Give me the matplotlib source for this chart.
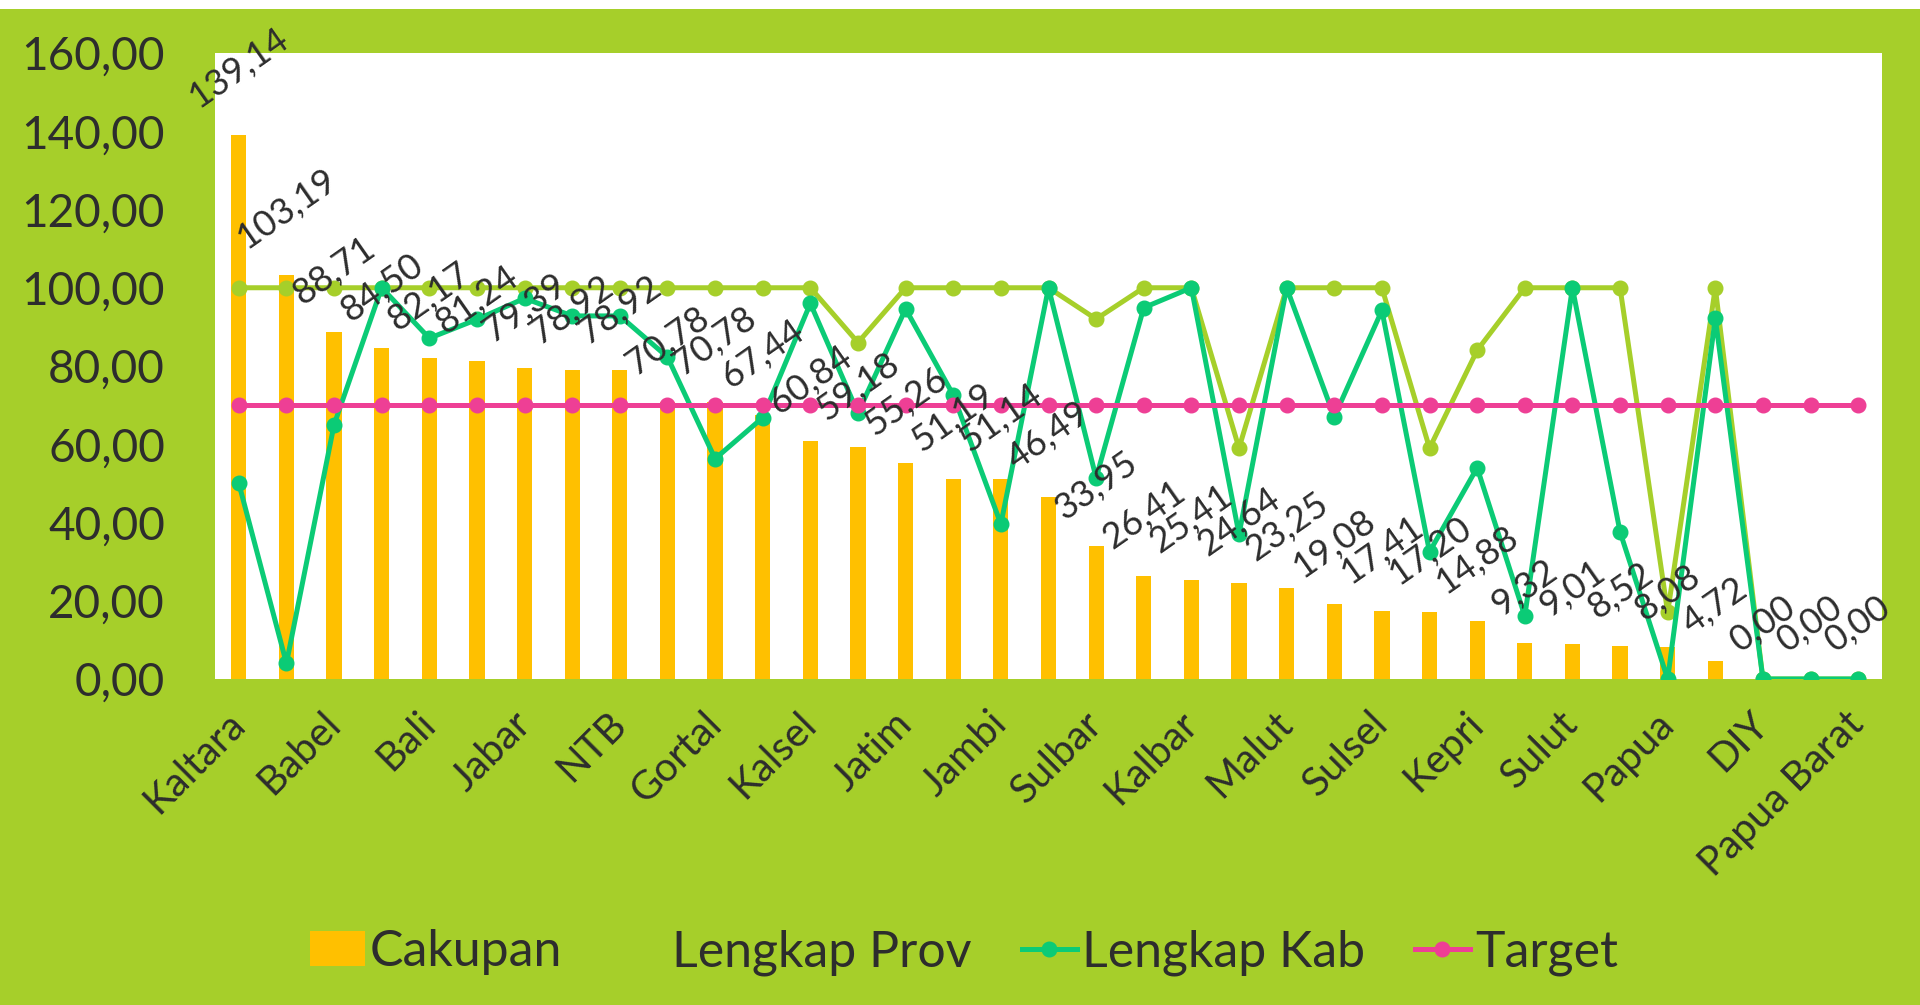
import matplotlib.pyplot as plt
import numpy as np
from matplotlib.patches import Rectangle

plt.rcParams['font.family'] = ['Lato', 'DejaVu Sans']

# every second province is labelled on the x axis
tick_names = ['Kaltara', 'Babel', 'Bali', 'Jabar', 'NTB', 'Gortal', 'Kalsel', 'Jatim', 'Jambi',
              'Sulbar', 'Kalbar', 'Malut', 'Sulsel', 'Kepri', 'Sulut', 'Papua', 'DIY', 'Papua Barat']

cakupan = [139.14, 103.19, 88.71, 84.50, 82.17, 81.24, 79.39, 78.92, 78.92, 70.78, 70.78, 67.44,
           60.84, 59.18, 55.26, 51.19, 51.14, 46.49, 33.95, 26.41, 25.41, 24.64, 23.25, 19.08,
           17.41, 17.20, 14.88, 9.32, 9.01, 8.52, 8.08, 4.72, 0.00, 0.00, 0.00]

lengkap_prov = [100, 100, 100, 100, 100, 100, 100, 100, 100, 100, 100, 100, 100, 86, 100, 100, 100,
                100, 92, 100, 100, 59, 100, 100, 100, 59, 84, 100, 100, 100, 17, 100, 0, 0, 0]

lengkap_kab = [50, 4, 65, 100, 87.1, 91.9, 97.3, 92.8, 92.8, 82.3, 56.3, 66.8, 96, 68, 94.6, 72.6,
               39.6, 100, 51.4, 94.9, 100, 37, 100, 67, 94.2, 32.5, 54, 16.1, 100, 37.6, 0, 92.2,
               0, 0, 0]

target = [70] * 35

BG = '#A6CF2A'
TXT = '#2d2d2d'

fig = plt.figure(figsize=(19.2, 10.05), dpi=100, facecolor=BG)
fig.patches.append(Rectangle((0, 1 - 9 / 1005), 1, 9 / 1005, transform=fig.transFigure,
                             facecolor='white', edgecolor='none', zorder=0))
ax = fig.add_axes([215 / 1920, 1 - 679 / 1005, (1882 - 215) / 1920, (679 - 53) / 1005])
ax.set_facecolor('white')

x = np.arange(len(cakupan))
bars = ax.bar(x, cakupan, width=0.32, color='#FFC000', label='Cakupan', zorder=2)
l_prov, = ax.plot(x, lengkap_prov, color=BG, lw=3.6, marker='o', ms=10.5, label='Lengkap Prov', zorder=3)
l_kab, = ax.plot(x, lengkap_kab, color='#0BCB76', lw=3.6, marker='o', ms=10.5, label='Lengkap Kab', zorder=4)
l_tgt, = ax.plot(x, target, color='#EE3F95', lw=3.6, marker='o', ms=10.5, label='Target', zorder=5)

for xi, v in zip(x, cakupan):
    ax.annotate(f'{v:.2f}'.replace('.', ','), (xi, v), xytext=(0, 15), textcoords='offset points',
                ha='center', va='bottom', rotation=35, fontsize=26, color=TXT, zorder=6,
                annotation_clip=False)

ax.set_xlim(-0.5, len(cakupan) - 0.5)
ax.set_ylim(0, 160)
ax.set_yticks(np.arange(0, 161, 20))
ax.set_yticklabels([f'{t:.2f}'.replace('.', ',') for t in np.arange(0, 161, 20)], fontsize=33, color=TXT)
ax.set_xticks(x[::2])
ax.set_xticklabels(tick_names, rotation=45, ha='right', va='center', rotation_mode='anchor',
                   fontsize=29, color=TXT)
ax.tick_params(axis='y', length=0, pad=36)
ax.tick_params(axis='x', length=0, pad=28)
for s in ax.spines.values():
    s.set_visible(False)

fig.legend([bars, l_prov, l_kab, l_tgt], ['Cakupan', 'Lengkap Prov', 'Lengkap Kab', 'Target'],
           loc='center', bbox_to_anchor=(0.502, 0.052), ncol=4, frameon=False, fontsize=36,
           handlelength=1.1, handletextpad=0.1, columnspacing=1.0, labelcolor=TXT)

fig.savefig('out.png', dpi=100, facecolor=BG)
